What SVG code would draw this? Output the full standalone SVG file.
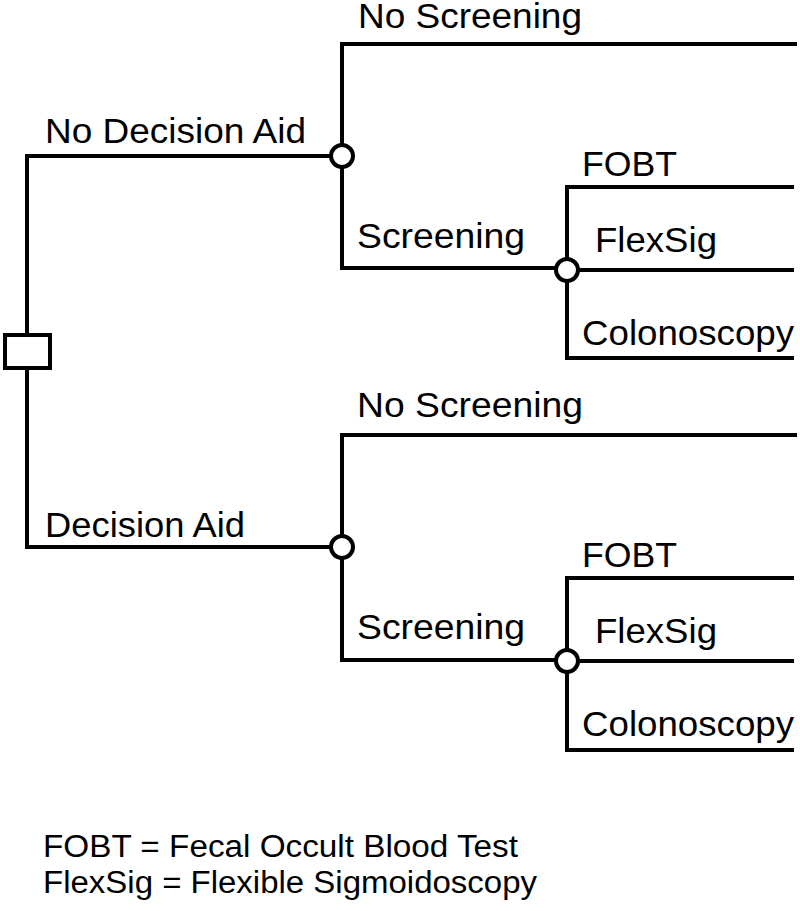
<svg xmlns="http://www.w3.org/2000/svg" width="800" height="911" viewBox="0 0 800 911">
<style>
.ln{fill:none;stroke:#000;stroke-width:4;stroke-linecap:square}
.nd{fill:#fff;stroke:#000;stroke-width:4}
text{font-family:"Liberation Sans",Arial,sans-serif;font-size:35px;fill:#000}
.lg{font-size:31px}
</style>
<rect width="800" height="911" fill="#fff"/>
<g id="connectors">
<path class="ln" d="M27,335 V156 H331"/>
<path class="ln" d="M27,368 V547 H331"/>
<path class="ln" d="M342,145 V44 H795"/>
<path class="ln" d="M342,167 V268 H556"/>
<path class="ln" d="M567,259 V187 H792"/>
<path class="ln" d="M579,270 H792"/>
<path class="ln" d="M567,281 V358 H792"/>
<path class="ln" d="M342,536 V435 H795"/>
<path class="ln" d="M342,558 V660 H556"/>
<path class="ln" d="M567,651 V578 H792"/>
<path class="ln" d="M579,661 H792"/>
<path class="ln" d="M567,672 V750 H792"/>
</g>
<g id="decision">
<rect class="nd" x="5" y="335" width="45" height="33"/>
</g>
<g id="chance1"><circle class="nd" cx="342" cy="156" r="11"/></g>
<g id="chance2"><circle class="nd" cx="567" cy="270" r="11"/></g>
<g id="chance3"><circle class="nd" cx="342" cy="547" r="11"/></g>
<g id="chance4"><circle class="nd" cx="567" cy="661" r="11"/></g>
<g id="labels">
<text x="45" y="143" textLength="261" lengthAdjust="spacingAndGlyphs">No Decision Aid</text>
<text x="45" y="537" textLength="200" lengthAdjust="spacingAndGlyphs">Decision Aid</text>
<text x="358" y="28" textLength="224" lengthAdjust="spacingAndGlyphs">No Screening</text>
<text x="357" y="248" textLength="168" lengthAdjust="spacingAndGlyphs">Screening</text>
<text x="582" y="176" textLength="95" lengthAdjust="spacingAndGlyphs">FOBT</text>
<text x="595" y="252" textLength="122" lengthAdjust="spacingAndGlyphs">FlexSig</text>
<text x="582" y="345" textLength="212" lengthAdjust="spacingAndGlyphs">Colonoscopy</text>
<text x="357" y="417" textLength="226" lengthAdjust="spacingAndGlyphs">No Screening</text>
<text x="357" y="639" textLength="168" lengthAdjust="spacingAndGlyphs">Screening</text>
<text x="582" y="567" textLength="95" lengthAdjust="spacingAndGlyphs">FOBT</text>
<text x="595" y="643" textLength="122" lengthAdjust="spacingAndGlyphs">FlexSig</text>
<text x="582" y="736" textLength="212" lengthAdjust="spacingAndGlyphs">Colonoscopy</text>
</g>
<g id="legend">
<text class="lg" x="43" y="857" textLength="475" lengthAdjust="spacingAndGlyphs">FOBT = Fecal Occult Blood Test</text>
<text class="lg" x="43" y="893" textLength="494" lengthAdjust="spacingAndGlyphs">FlexSig = Flexible Sigmoidoscopy</text>
</g>
</svg>
